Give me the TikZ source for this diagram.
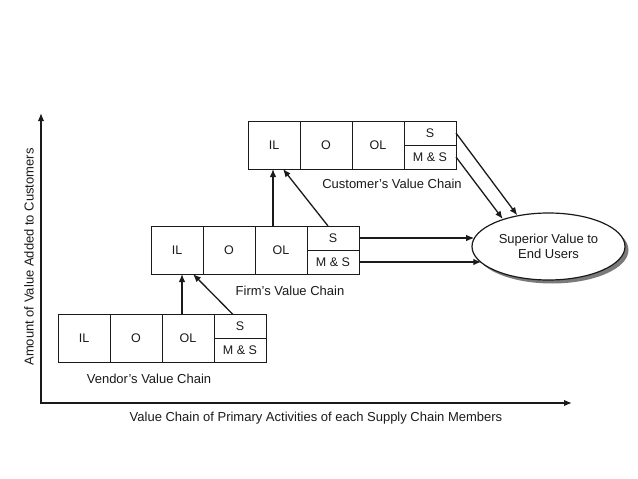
\documentclass[tikz,border=0pt]{standalone}
\usepackage{fontspec}
\setmainfont{Liberation Sans}
\usetikzlibrary{shapes.geometric,arrows.meta,positioning,calc,shadows}
\definecolor{InkBlack}{HTML}{1A1A1A}
\definecolor{ShadowGray}{HTML}{7A7A7A}
\tikzset{
  cell/.style={rectangle,draw=InkBlack,line width=1pt,
               minimum width=52pt,minimum height=48pt,
               inner sep=0pt,outer sep=0pt,text=InkBlack,
               font=\fontsize{12.5}{14}\selectfont},
  half/.style={cell,minimum height=24pt},
  arr/.style={-{Latex[length=8pt,width=6.5pt]},line width=1.3pt,draw=InkBlack},
  axis/.style={{Latex[length=8pt,width=6.5pt]}-{Latex[length=8pt,width=6.5pt]},line width=1.5pt,draw=InkBlack},
  lbl/.style={font=\fontsize{13}{15.5}\selectfont,text=InkBlack},
  goal/.style={ellipse,draw=InkBlack,line width=1.2pt,fill=white,
               minimum width=153pt,minimum height=67pt,inner sep=0pt,align=center,
               drop shadow={shadow xshift=3.5pt,shadow yshift=-3.5pt,fill=ShadowGray,opacity=1}}
}
\begin{document}
\begin{tikzpicture}[x=1pt,y=-1pt]
  \useasboundingbox (0,0) rectangle (638,479);
  \coordinate (org) at (41,403);
  \coordinate (ytop) at (41,113);
  \coordinate (xend) at (572,403);
  \draw[axis] (ytop) -- (org) -- (xend);
  \node[lbl,rotate=90] (ylab) at (29,257) {Amount of Value Added to Customers};
  \node[lbl] (xlab) at (316,418) {Value Chain of Primary Activities of each Supply Chain Members};

  \node[cell] (vIL) at (84,338.5) {IL};
  \node[cell,right=0pt of vIL] (vO) {O};
  \node[cell,right=0pt of vO] (vOL) {OL};
  \node[half,anchor=north west] (vS) at (vOL.north east) {S};
  \node[half,below=0pt of vS] (vMS) {M \& S};
  \node[lbl] (vlab) at (149,379) {Vendor's Value Chain};

  \node[cell] (fIL) at (177,250) {IL};
  \node[cell,right=0pt of fIL] (fO) {O};
  \node[cell,right=0pt of fO] (fOL) {OL};
  \node[half,anchor=north west] (fS) at (fOL.north east) {S};
  \node[half,below=0pt of fS] (fMS) {M \& S};
  \node[lbl] (flab) at (290,291) {Firm's Value Chain};

  \node[cell] (cIL) at (274,145) {IL};
  \node[cell,right=0pt of cIL] (cO) {O};
  \node[cell,right=0pt of cO] (cOL) {OL};
  \node[half,anchor=north west] (cS) at (cOL.north east) {S};
  \node[half,below=0pt of cS] (cMS) {M \& S};
  \node[lbl] (clab) at (392,184) {Customer's Value Chain};

  \node[goal,lbl] (ell) at (548.5,246.5) {Superior Value to\\End Users};

  \draw[arr] ($(vOL.north west)+(20,0)$) -- ($(fIL.south)+(5,0)$);
  \draw[arr] ($(vS.north west)+(19,0)$) -- ($(fIL.south east)+(-10,0)$);
  \draw[arr] ($(fOL.north west)+(18,0)$) -- ($(cIL.south)+(-1,0)$);
  \draw[arr] ($(fS.north west)+(21,0)$) -- ($(cIL.south east)+(-17,0)$);
  \draw[arr] (fS.east) -- (fS.east -| ell.173.5);
  \draw[arr] (fMS.east) -- (fMS.east -| ell.194);
  \draw[arr] (cS.east) -- (ell.135);
  \draw[arr] (cMS.east) -- (ell.149);
\end{tikzpicture}
\end{document}
